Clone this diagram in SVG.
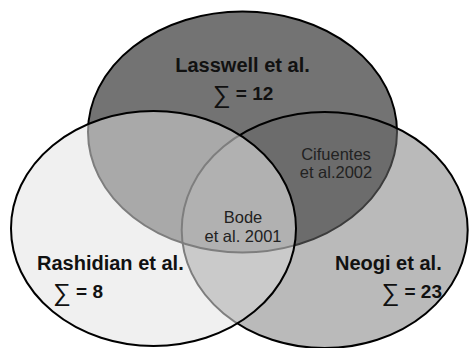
<svg xmlns="http://www.w3.org/2000/svg" xmlns:xlink="http://www.w3.org/1999/xlink" width="469" height="348" viewBox="0 0 469 348">
  <style>
    .edge { fill: none; stroke: #000; stroke-width: 2; }
    .soft { fill: none; stroke: #7e7e7e; stroke-width: 2; }
    .dim { fill: none; stroke: #3c3c3c; stroke-width: 2; }
    .title { font-family: "Liberation Sans", Arial, sans-serif; font-weight: bold; font-size: 20px; fill: #111; }
    .sum { font-family: "Liberation Sans", Arial, sans-serif; font-weight: bold; font-size: 19px; fill: #111; }
    .sig { font-weight: normal; font-size: 25px; }
    .small { font-family: "Liberation Sans", Arial, sans-serif; font-size: 16.5px; fill: #222; text-anchor: middle; }
  </style>
  <defs>
    <ellipse id="eT" cx="242.5" cy="132" rx="154.5" ry="120.5"/>
    <ellipse id="eL" cx="153.5" cy="228.5" rx="142.5" ry="117.5"/>
    <ellipse id="eR" cx="324.7" cy="230" rx="143" ry="118"/>
    <clipPath id="cT"><use xlink:href="#eT"/></clipPath>
    <clipPath id="cL"><use xlink:href="#eL"/></clipPath>
    <clipPath id="cR"><use xlink:href="#eR"/></clipPath>
  </defs>
  <rect width="469" height="348" fill="#fff"/>

  <g id="lasswell">
    <use xlink:href="#eT" fill="#737373"/>
    <use xlink:href="#eT" class="edge"/>
    <text class="title" x="242.5" y="72" text-anchor="middle">Lasswell et al.</text>
    <text class="sum" x="243" y="100" text-anchor="middle"><tspan class="sig" dy="3">∑</tspan><tspan dy="-3"> = 12</tspan></text>
  </g>

  <g id="neogi">
    <use xlink:href="#eR" fill="#bababa"/>
    <use xlink:href="#eR" fill="#6c6c6c" clip-path="url(#cT)"/>
    <use xlink:href="#eT" class="dim" clip-path="url(#cR)"/>
    <use xlink:href="#eR" class="edge"/>
    <text class="title" x="335" y="270">Neogi et al.</text>
    <text class="sum" x="442" y="298" text-anchor="end"><tspan class="sig" dy="3">∑</tspan><tspan dy="-3"> = 23</tspan></text>
  </g>

  <g id="rashidian">
    <use xlink:href="#eL" fill="#f0f0f0"/>
    <use xlink:href="#eL" fill="#a9a9a9" clip-path="url(#cT)"/>
    <use xlink:href="#eL" fill="#cacaca" clip-path="url(#cR)"/>
    <g clip-path="url(#cT)"><use xlink:href="#eL" fill="#b1b1b1" clip-path="url(#cR)"/></g>
    <use xlink:href="#eT" class="soft" clip-path="url(#cL)"/>
    <use xlink:href="#eR" class="soft" clip-path="url(#cL)"/>
    <use xlink:href="#eL" class="edge"/>
    <text class="title" x="37" y="269.5">Rashidian et al.</text>
    <text class="sum" x="53" y="298"><tspan class="sig" dy="3">∑</tspan><tspan dy="-3"> = 8</tspan></text>
  </g>

  <g id="cifuentes">
    <text class="small" x="336" y="160">Cifuentes</text>
    <text class="small" x="336" y="177.5">et al.2002</text>
  </g>

  <g id="bode">
    <text class="small" x="243" y="223">Bode</text>
    <text class="small" x="243" y="242">et al. 2001</text>
  </g>

  <g id="connectors"></g>
</svg>
